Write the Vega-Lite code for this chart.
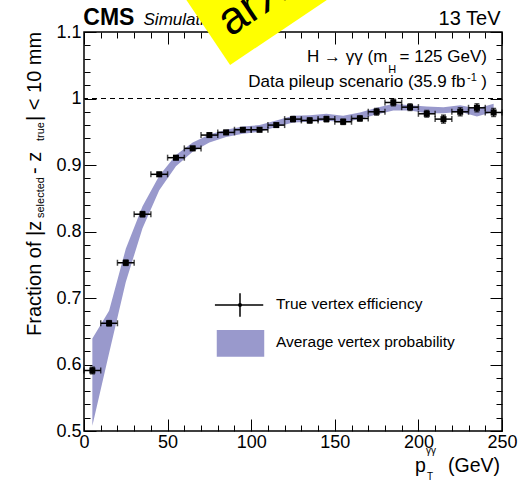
{
  "$schema": "https://vega.github.io/schema/vega-lite/v6.json",
  "width": 418,
  "height": 399,
  "autosize": {"type": "none"},
  "padding": {"left": 84, "top": 32, "right": 18, "bottom": 49},
  "background": "white",
  "config": {
    "view": {"stroke": "black", "strokeWidth": 1.5},
    "font": "Liberation Sans",
    "text": {"font": "Liberation Sans", "color": "black"},
    "axis": {"domain": false, "grid": false, "labelFont": "Liberation Sans", "labelFontSize": 18, "labelColor": "black", "tickColor": "black", "tickWidth": 1, "labelFlush": false, "title": null}
  },
  "datasets": {
    "eff": [
      {"pt": 5, "pt_lo": 0, "pt_hi": 10, "eff": 0.591, "eff_lo": 0.586, "eff_hi": 0.596, "band_lo": 0.508, "band_hi": 0.639},
      {"pt": 15, "pt_lo": 10, "pt_hi": 20, "eff": 0.662, "eff_lo": 0.658, "eff_hi": 0.666, "band_lo": 0.617, "band_hi": 0.681},
      {"pt": 25, "pt_lo": 20, "pt_hi": 30, "eff": 0.753, "eff_lo": 0.749, "eff_hi": 0.757, "band_lo": 0.724, "band_hi": 0.774},
      {"pt": 35, "pt_lo": 30, "pt_hi": 40, "eff": 0.826, "eff_lo": 0.822, "eff_hi": 0.830, "band_lo": 0.805, "band_hi": 0.838},
      {"pt": 45, "pt_lo": 40, "pt_hi": 50, "eff": 0.886, "eff_lo": 0.883, "eff_hi": 0.889, "band_lo": 0.862, "band_hi": 0.884},
      {"pt": 55, "pt_lo": 50, "pt_hi": 60, "eff": 0.911, "eff_lo": 0.908, "eff_hi": 0.914, "band_lo": 0.898, "band_hi": 0.915},
      {"pt": 65, "pt_lo": 60, "pt_hi": 70, "eff": 0.925, "eff_lo": 0.922, "eff_hi": 0.928, "band_lo": 0.920, "band_hi": 0.934},
      {"pt": 75, "pt_lo": 70, "pt_hi": 80, "eff": 0.945, "eff_lo": 0.942, "eff_hi": 0.948, "band_lo": 0.934, "band_hi": 0.946},
      {"pt": 85, "pt_lo": 80, "pt_hi": 90, "eff": 0.949, "eff_lo": 0.946, "eff_hi": 0.952, "band_lo": 0.942, "band_hi": 0.953},
      {"pt": 95, "pt_lo": 90, "pt_hi": 100, "eff": 0.953, "eff_lo": 0.950, "eff_hi": 0.956, "band_lo": 0.947, "band_hi": 0.958},
      {"pt": 105, "pt_lo": 100, "pt_hi": 110, "eff": 0.953, "eff_lo": 0.950, "eff_hi": 0.956, "band_lo": 0.950, "band_hi": 0.960},
      {"pt": 115, "pt_lo": 110, "pt_hi": 120, "eff": 0.960, "eff_lo": 0.957, "eff_hi": 0.963, "band_lo": 0.957, "band_hi": 0.967},
      {"pt": 125, "pt_lo": 120, "pt_hi": 130, "eff": 0.969, "eff_lo": 0.965, "eff_hi": 0.973, "band_lo": 0.964, "band_hi": 0.974},
      {"pt": 135, "pt_lo": 130, "pt_hi": 140, "eff": 0.967, "eff_lo": 0.963, "eff_hi": 0.971, "band_lo": 0.965, "band_hi": 0.975},
      {"pt": 145, "pt_lo": 140, "pt_hi": 150, "eff": 0.969, "eff_lo": 0.965, "eff_hi": 0.973, "band_lo": 0.967, "band_hi": 0.977},
      {"pt": 155, "pt_lo": 150, "pt_hi": 160, "eff": 0.965, "eff_lo": 0.961, "eff_hi": 0.969, "band_lo": 0.964, "band_hi": 0.974},
      {"pt": 165, "pt_lo": 160, "pt_hi": 170, "eff": 0.970, "eff_lo": 0.966, "eff_hi": 0.974, "band_lo": 0.969, "band_hi": 0.979},
      {"pt": 175, "pt_lo": 170, "pt_hi": 180, "eff": 0.980, "eff_lo": 0.975, "eff_hi": 0.985, "band_lo": 0.976, "band_hi": 0.986},
      {"pt": 185, "pt_lo": 180, "pt_hi": 190, "eff": 0.994, "eff_lo": 0.989, "eff_hi": 0.999, "band_lo": 0.982, "band_hi": 0.992},
      {"pt": 195, "pt_lo": 190, "pt_hi": 200, "eff": 0.987, "eff_lo": 0.982, "eff_hi": 0.992, "band_lo": 0.982, "band_hi": 0.990},
      {"pt": 205, "pt_lo": 200, "pt_hi": 210, "eff": 0.977, "eff_lo": 0.972, "eff_hi": 0.982, "band_lo": 0.978, "band_hi": 0.988},
      {"pt": 215, "pt_lo": 210, "pt_hi": 220, "eff": 0.969, "eff_lo": 0.963, "eff_hi": 0.975, "band_lo": 0.978, "band_hi": 0.987},
      {"pt": 225, "pt_lo": 220, "pt_hi": 230, "eff": 0.980, "eff_lo": 0.974, "eff_hi": 0.986, "band_lo": 0.980, "band_hi": 0.990},
      {"pt": 235, "pt_lo": 230, "pt_hi": 240, "eff": 0.986, "eff_lo": 0.980, "eff_hi": 0.992, "band_lo": 0.973, "band_hi": 0.985},
      {"pt": 245, "pt_lo": 240, "pt_hi": 250, "eff": 0.979, "eff_lo": 0.973, "eff_hi": 0.985, "band_lo": 0.980, "band_hi": 0.992}
    ]
  },
  "data": {"values": [{}]},
  "resolve": {"axis": {"x": "independent", "y": "independent"}},
  "layer": [
    {
      "data": {"name": "eff"},
      "mark": {"type": "area", "color": "#9999cc", "opacity": 1},
      "encoding": {
        "x": {"field": "pt", "type": "quantitative", "scale": {"domain": [0, 250], "nice": false, "zero": false},
              "axis": {"orient": "bottom", "values": [0, 50, 100, 150, 200, 250], "ticks": false, "labelPadding": 2}},
        "y": {"field": "band_hi", "type": "quantitative", "scale": {"domain": [0.5, 1.1], "nice": false, "zero": false},
              "axis": {"orient": "left", "values": [0.5, 0.6, 0.7, 0.8, 0.9, 1.0, 1.1], "ticks": false, "format": ".1~f", "labelPadding": 3}},
        "y2": {"field": "band_lo"}
      }
    },
    {
      "data": {"values": [{"ref": 1}]},
      "mark": {"type": "rule", "stroke": "black", "strokeWidth": 1, "strokeDash": [5, 4]},
      "encoding": {
        "y": {"field": "ref", "type": "quantitative", "scale": {"domain": [0.5, 1.1], "nice": false, "zero": false}, "axis": null}
      }
    },
    {
      "data": {"name": "eff"},
      "mark": {"type": "rule", "stroke": "black", "strokeWidth": 1.5},
      "encoding": {
        "x": {"field": "pt_lo", "type": "quantitative", "scale": {"domain": [0, 250], "nice": false, "zero": false},
              "axis": {"orient": "bottom", "values": [0,10,20,30,40,50,60,70,80,90,100,110,120,130,140,150,160,170,180,190,200,210,220,230,240,250], "labels": false, "tickSize": {"condition": {"test": "datum.value % 50 == 0", "value": -12}, "value": -6}}},
        "x2": {"field": "pt_hi"},
        "y": {"field": "eff", "type": "quantitative", "scale": {"domain": [0.5, 1.1], "nice": false, "zero": false},
              "axis": {"orient": "left", "values": [0.5,0.52,0.54,0.56,0.58,0.6,0.62,0.64,0.66,0.68,0.7,0.72,0.74,0.76,0.78,0.8,0.82,0.84,0.86,0.88,0.9,0.92,0.94,0.96,0.98,1.0,1.02,1.04,1.06,1.08,1.1], "labels": false, "tickSize": {"condition": {"test": "abs(datum.value*10 - round(datum.value*10)) < 0.001", "value": -12}, "value": -6}}}
      }
    },
    {
      "data": {"name": "eff"},
      "mark": {"type": "tick", "orient": "vertical", "color": "black", "size": 6, "thickness": 1.5},
      "encoding": {
        "x": {"field": "pt_lo", "type": "quantitative", "scale": {"domain": [0, 250], "nice": false, "zero": false}, "axis": null},
        "y": {"field": "eff", "type": "quantitative", "scale": {"domain": [0.5, 1.1], "nice": false, "zero": false}, "axis": null}
      }
    },
    {
      "data": {"name": "eff"},
      "mark": {"type": "tick", "orient": "vertical", "color": "black", "size": 6, "thickness": 1.5},
      "encoding": {
        "x": {"field": "pt_hi", "type": "quantitative", "scale": {"domain": [0, 250], "nice": false, "zero": false}, "axis": null},
        "y": {"field": "eff", "type": "quantitative", "scale": {"domain": [0.5, 1.1], "nice": false, "zero": false}, "axis": null}
      }
    },
    {
      "data": {"name": "eff"},
      "mark": {"type": "rule", "stroke": "black", "strokeWidth": 1.5},
      "encoding": {
        "x": {"field": "pt", "type": "quantitative", "scale": {"domain": [0, 250], "nice": false, "zero": false}, "axis": null},
        "y": {"field": "eff_lo", "type": "quantitative", "scale": {"domain": [0.5, 1.1], "nice": false, "zero": false}, "axis": null},
        "y2": {"field": "eff_hi"}
      }
    },
    {
      "data": {"name": "eff"},
      "mark": {"type": "tick", "orient": "horizontal", "color": "black", "size": 5, "thickness": 1.5},
      "encoding": {
        "x": {"field": "pt", "type": "quantitative", "scale": {"domain": [0, 250], "nice": false, "zero": false}, "axis": null},
        "y": {"field": "eff_lo", "type": "quantitative", "scale": {"domain": [0.5, 1.1], "nice": false, "zero": false}, "axis": null}
      }
    },
    {
      "data": {"name": "eff"},
      "mark": {"type": "tick", "orient": "horizontal", "color": "black", "size": 5, "thickness": 1.5},
      "encoding": {
        "x": {"field": "pt", "type": "quantitative", "scale": {"domain": [0, 250], "nice": false, "zero": false}, "axis": null},
        "y": {"field": "eff_hi", "type": "quantitative", "scale": {"domain": [0.5, 1.1], "nice": false, "zero": false}, "axis": null}
      }
    },
    {
      "data": {"name": "eff"},
      "mark": {"type": "point", "shape": "square", "filled": true, "color": "black", "opacity": 1, "size": 36},
      "encoding": {
        "x": {"field": "pt", "type": "quantitative", "scale": {"domain": [0, 250], "nice": false, "zero": false},
              "axis": {"orient": "top", "values": [0,10,20,30,40,50,60,70,80,90,100,110,120,130,140,150,160,170,180,190,200,210,220,230,240,250], "labels": false, "tickSize": {"condition": {"test": "datum.value % 50 == 0", "value": -12}, "value": -6}}},
        "y": {"field": "eff", "type": "quantitative", "scale": {"domain": [0.5, 1.1], "nice": false, "zero": false},
              "axis": {"orient": "right", "values": [0.5,0.52,0.54,0.56,0.58,0.6,0.62,0.64,0.66,0.68,0.7,0.72,0.74,0.76,0.78,0.8,0.82,0.84,0.86,0.88,0.9,0.92,0.94,0.96,0.98,1.0,1.02,1.04,1.06,1.08,1.1], "labels": false, "tickSize": {"condition": {"test": "abs(datum.value*10 - round(datum.value*10)) < 0.001", "value": -12}, "value": -6}}}
      }
    },
    {
      "mark": {"type": "rule", "stroke": "black", "strokeWidth": 1.5},
      "encoding": {
        "x": {"datum": 78.3, "type": "quantitative", "scale": {"domain": [0, 250], "nice": false, "zero": false}, "axis": null},
        "x2": {"datum": 107.2},
        "y": {"datum": 0.6895, "type": "quantitative", "scale": {"domain": [0.5, 1.1], "nice": false, "zero": false}, "axis": null}
      }
    },
    {
      "mark": {"type": "rule", "stroke": "black", "strokeWidth": 1.5},
      "encoding": {
        "x": {"datum": 93.3, "type": "quantitative", "scale": {"domain": [0, 250], "nice": false, "zero": false}, "axis": null},
        "y": {"datum": 0.7071, "type": "quantitative", "scale": {"domain": [0.5, 1.1], "nice": false, "zero": false}, "axis": null},
        "y2": {"datum": 0.6719}
      }
    },
    {
      "mark": {"type": "point", "shape": "circle", "filled": true, "color": "black", "opacity": 1, "size": 16},
      "encoding": {
        "x": {"datum": 93.3, "type": "quantitative", "scale": {"domain": [0, 250], "nice": false, "zero": false}, "axis": null},
        "y": {"datum": 0.6895, "type": "quantitative", "scale": {"domain": [0.5, 1.1], "nice": false, "zero": false}, "axis": null}
      }
    },
    {
      "mark": {"type": "rect", "color": "#9999cc", "opacity": 1},
      "encoding": {
        "x": {"datum": 79.4, "type": "quantitative", "scale": {"domain": [0, 250], "nice": false, "zero": false}, "axis": null},
        "x2": {"datum": 107.8},
        "y": {"datum": 0.6519, "type": "quantitative", "scale": {"domain": [0.5, 1.1], "nice": false, "zero": false}, "axis": null},
        "y2": {"datum": 0.6117}
      }
    },
    {
      "mark": {"type": "text", "text": "True vertex efficiency", "fontSize": 15.5, "align": "left", "baseline": "alphabetic"},
      "encoding": {
        "x": {"datum": 114.8, "type": "quantitative", "scale": {"domain": [0, 250], "nice": false, "zero": false}, "axis": null},
        "y": {"datum": 0.6835, "type": "quantitative", "scale": {"domain": [0.5, 1.1], "nice": false, "zero": false}, "axis": null}
      }
    },
    {
      "mark": {"type": "text", "text": "Average vertex probability", "fontSize": 15.5, "align": "left", "baseline": "alphabetic"},
      "encoding": {
        "x": {"datum": 114.8, "type": "quantitative", "scale": {"domain": [0, 250], "nice": false, "zero": false}, "axis": null},
        "y": {"datum": 0.6263, "type": "quantitative", "scale": {"domain": [0.5, 1.1], "nice": false, "zero": false}, "axis": null}
      }
    },
    {
      "mark": {"type": "text", "text": "H → γγ (m", "fontSize": 17, "align": "left", "baseline": "alphabetic"},
      "encoding": {
        "x": {"datum": 133.4, "type": "quantitative", "scale": {"domain": [0, 250], "nice": false, "zero": false}, "axis": null},
        "y": {"datum": 1.0549, "type": "quantitative", "scale": {"domain": [0.5, 1.1], "nice": false, "zero": false}, "axis": null}
      }
    },
    {
      "mark": {"type": "text", "text": "H", "fontSize": 11, "align": "left", "baseline": "alphabetic"},
      "encoding": {
        "x": {"datum": 182.0, "type": "quantitative", "scale": {"domain": [0, 250], "nice": false, "zero": false}, "axis": null},
        "y": {"datum": 1.0383, "type": "quantitative", "scale": {"domain": [0.5, 1.1], "nice": false, "zero": false}, "axis": null}
      }
    },
    {
      "mark": {"type": "text", "text": " = 125 GeV)", "fontSize": 17, "align": "right", "baseline": "alphabetic"},
      "encoding": {
        "x": {"datum": 241.0, "type": "quantitative", "scale": {"domain": [0, 250], "nice": false, "zero": false}, "axis": null},
        "y": {"datum": 1.0549, "type": "quantitative", "scale": {"domain": [0.5, 1.1], "nice": false, "zero": false}, "axis": null}
      }
    },
    {
      "mark": {"type": "text", "text": "Data pileup scenario (35.9 fb", "fontSize": 17, "align": "right", "baseline": "alphabetic"},
      "encoding": {
        "x": {"datum": 228.2, "type": "quantitative", "scale": {"domain": [0, 250], "nice": false, "zero": false}, "axis": null},
        "y": {"datum": 1.0173, "type": "quantitative", "scale": {"domain": [0.5, 1.1], "nice": false, "zero": false}, "axis": null}
      }
    },
    {
      "mark": {"type": "text", "text": "-1", "fontSize": 11, "align": "left", "baseline": "alphabetic"},
      "encoding": {
        "x": {"datum": 229.1, "type": "quantitative", "scale": {"domain": [0, 250], "nice": false, "zero": false}, "axis": null},
        "y": {"datum": 1.0263, "type": "quantitative", "scale": {"domain": [0.5, 1.1], "nice": false, "zero": false}, "axis": null}
      }
    },
    {
      "mark": {"type": "text", "text": ")", "fontSize": 17, "align": "right", "baseline": "alphabetic"},
      "encoding": {
        "x": {"datum": 241.0, "type": "quantitative", "scale": {"domain": [0, 250], "nice": false, "zero": false}, "axis": null},
        "y": {"datum": 1.0173, "type": "quantitative", "scale": {"domain": [0.5, 1.1], "nice": false, "zero": false}, "axis": null}
      }
    },
    {
      "mark": {"type": "text", "text": "CMS", "fontSize": 23, "fontWeight": "bold", "align": "left", "baseline": "alphabetic"},
      "encoding": {
        "x": {"datum": -0.4, "type": "quantitative", "scale": {"domain": [0, 250], "nice": false, "zero": false}, "axis": null},
        "y": {"datum": 1.1105, "type": "quantitative", "scale": {"domain": [0.5, 1.1], "nice": false, "zero": false}, "axis": null}
      }
    },
    {
      "mark": {"type": "text", "text": "Simulation", "fontSize": 17, "fontStyle": "italic", "align": "left", "baseline": "alphabetic"},
      "encoding": {
        "x": {"datum": 35.6, "type": "quantitative", "scale": {"domain": [0, 250], "nice": false, "zero": false}, "axis": null},
        "y": {"datum": 1.1105, "type": "quantitative", "scale": {"domain": [0.5, 1.1], "nice": false, "zero": false}, "axis": null}
      }
    },
    {
      "mark": {"type": "text", "text": "13 TeV", "fontSize": 20, "align": "right", "baseline": "alphabetic"},
      "encoding": {
        "x": {"datum": 249.1, "type": "quantitative", "scale": {"domain": [0, 250], "nice": false, "zero": false}, "axis": null},
        "y": {"datum": 1.1105, "type": "quantitative", "scale": {"domain": [0.5, 1.1], "nice": false, "zero": false}, "axis": null}
      }
    },
    {
      "mark": {"type": "text", "text": "p", "fontSize": 19.5, "align": "left", "baseline": "alphabetic"},
      "encoding": {
        "x": {"datum": 197.97, "type": "quantitative", "scale": {"domain": [0, 250], "nice": false, "zero": false}, "axis": null},
        "y": {"datum": 0.4383, "type": "quantitative", "scale": {"domain": [0.5, 1.1], "nice": false, "zero": false}, "axis": null}
      }
    },
    {
      "mark": {"type": "text", "text": "γγ", "fontSize": 10, "align": "left", "baseline": "alphabetic"},
      "encoding": {
        "x": {"datum": 204.6, "type": "quantitative", "scale": {"domain": [0, 250], "nice": false, "zero": false}, "axis": null},
        "y": {"datum": 0.4654, "type": "quantitative", "scale": {"domain": [0.5, 1.1], "nice": false, "zero": false}, "axis": null}
      }
    },
    {
      "mark": {"type": "text", "text": "T", "fontSize": 10, "align": "left", "baseline": "alphabetic"},
      "encoding": {
        "x": {"datum": 205.1, "type": "quantitative", "scale": {"domain": [0, 250], "nice": false, "zero": false}, "axis": null},
        "y": {"datum": 0.4263, "type": "quantitative", "scale": {"domain": [0.5, 1.1], "nice": false, "zero": false}, "axis": null}
      }
    },
    {
      "mark": {"type": "text", "text": " (GeV)", "fontSize": 19.5, "align": "right", "baseline": "alphabetic"},
      "encoding": {
        "x": {"datum": 248.8, "type": "quantitative", "scale": {"domain": [0, 250], "nice": false, "zero": false}, "axis": null},
        "y": {"datum": 0.4383, "type": "quantitative", "scale": {"domain": [0.5, 1.1], "nice": false, "zero": false}, "axis": null}
      }
    },
    {
      "mark": {"type": "text", "text": "Fraction of |z", "fontSize": 20, "angle": 270, "align": "left", "baseline": "alphabetic"},
      "encoding": {
        "x": {"datum": -26.0, "type": "quantitative", "scale": {"domain": [0, 250], "nice": false, "zero": false}, "axis": null},
        "y": {"datum": 0.6429, "type": "quantitative", "scale": {"domain": [0.5, 1.1], "nice": false, "zero": false}, "axis": null}
      }
    },
    {
      "mark": {"type": "text", "text": "selected", "fontSize": 11, "angle": 270, "align": "left", "baseline": "alphabetic"},
      "encoding": {
        "x": {"datum": -23.9, "type": "quantitative", "scale": {"domain": [0, 250], "nice": false, "zero": false}, "axis": null},
        "y": {"datum": 0.8203, "type": "quantitative", "scale": {"domain": [0.5, 1.1], "nice": false, "zero": false}, "axis": null}
      }
    },
    {
      "mark": {"type": "text", "text": " - z", "fontSize": 20, "angle": 270, "align": "left", "baseline": "alphabetic"},
      "encoding": {
        "x": {"datum": -26.0, "type": "quantitative", "scale": {"domain": [0, 250], "nice": false, "zero": false}, "axis": null},
        "y": {"datum": 0.8865, "type": "quantitative", "scale": {"domain": [0.5, 1.1], "nice": false, "zero": false}, "axis": null}
      }
    },
    {
      "mark": {"type": "text", "text": "true", "fontSize": 11, "angle": 270, "align": "left", "baseline": "alphabetic"},
      "encoding": {
        "x": {"datum": -23.9, "type": "quantitative", "scale": {"domain": [0, 250], "nice": false, "zero": false}, "axis": null},
        "y": {"datum": 0.9361, "type": "quantitative", "scale": {"domain": [0.5, 1.1], "nice": false, "zero": false}, "axis": null}
      }
    },
    {
      "mark": {"type": "text", "text": "| < 10 mm", "fontSize": 20, "angle": 270, "align": "left", "baseline": "alphabetic"},
      "encoding": {
        "x": {"datum": -26.0, "type": "quantitative", "scale": {"domain": [0, 250], "nice": false, "zero": false}, "axis": null},
        "y": {"datum": 0.9662, "type": "quantitative", "scale": {"domain": [0.5, 1.1], "nice": false, "zero": false}, "axis": null}
      }
    },
    {
      "mark": {"type": "point", "shape": "square", "filled": true, "color": "#ffff00", "opacity": 1, "size": 25600, "angle": 326.1},
      "encoding": {
        "x": {"datum": 100.4, "type": "quantitative", "scale": {"domain": [0, 250], "nice": false, "zero": false}, "axis": null},
        "y": {"datum": 1.2173, "type": "quantitative", "scale": {"domain": [0.5, 1.1], "nice": false, "zero": false}, "axis": null}
      }
    },
    {
      "mark": {"type": "text", "text": "arXiv", "fontSize": 46, "angle": 326.1, "align": "left", "baseline": "alphabetic"},
      "encoding": {
        "x": {"datum": 87.5, "type": "quantitative", "scale": {"domain": [0, 250], "nice": false, "zero": false}, "axis": null},
        "y": {"datum": 1.092, "type": "quantitative", "scale": {"domain": [0.5, 1.1], "nice": false, "zero": false}, "axis": null}
      }
    }
  ]
}
